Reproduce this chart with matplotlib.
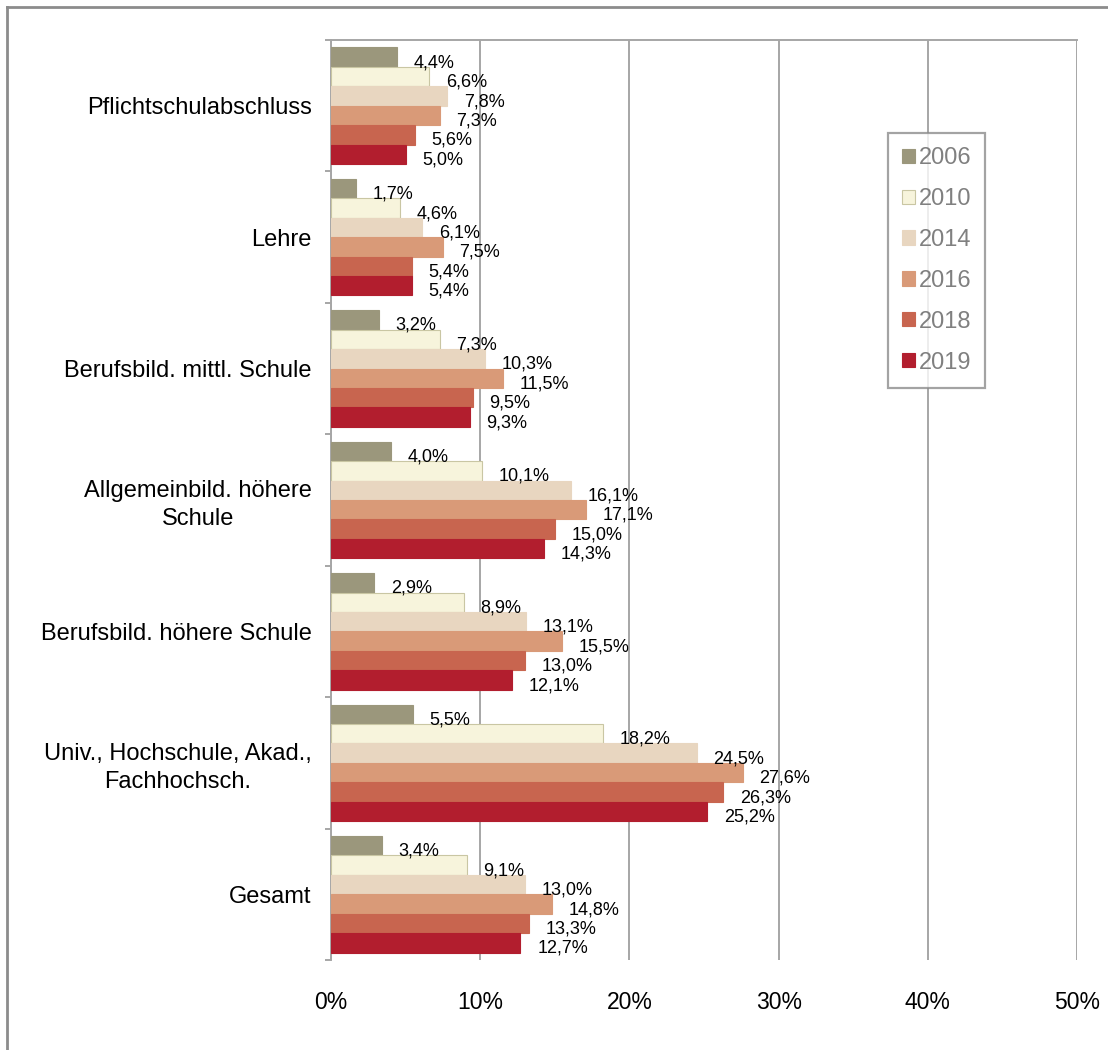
import numpy as np
import matplotlib
matplotlib.use('Agg')
import matplotlib.pyplot as plt
from matplotlib.lines import Line2D

plt.rcParams['font.family'] = ['Liberation Sans', 'DejaVu Sans']

categories = ['Pflichtschulabschluss', 'Lehre', 'Berufsbild. mittl. Schule',
              'Allgemeinbild. höhere\nSchule', 'Berufsbild. höhere Schule',
              'Univ., Hochschule, Akad.,\nFachhochsch.', 'Gesamt']
years = ['2006', '2010', '2014', '2016', '2018', '2019']
v2006 = [4.4, 1.7, 3.2, 4.0, 2.9, 5.5, 3.4]
v2010 = [6.6, 4.6, 7.3, 10.1, 8.9, 18.2, 9.1]
v2014 = [7.8, 6.1, 10.3, 16.1, 13.1, 24.5, 13.0]
v2016 = [7.3, 7.5, 11.5, 17.1, 15.5, 27.6, 14.8]
v2018 = [5.6, 5.4, 9.5, 15.0, 13.0, 26.3, 13.3]
v2019 = [5.0, 5.4, 9.3, 14.3, 12.1, 25.2, 12.7]
series = [v2006, v2010, v2014, v2016, v2018, v2019]
colors = ['#9b977c', '#f7f4dc', '#e8d6c0', '#d99a78', '#c8654f', '#b21e2e']
edges = ['#9b977c', '#c9c6a3', '#e8d6c0', '#d99a78', '#c8654f', '#b21e2e']

fig = plt.figure(figsize=(11.08, 10.5), dpi=100)
ax = fig.add_axes([331/1108, 1-960/1050, 746/1108, 920/1050])

n = len(categories)
y = np.arange(n)
h = 0.148
for i, (vals, c, e) in enumerate(zip(series, colors, edges)):
    pos = y - 2.5*h + i*h
    bars = ax.barh(pos, vals, height=h, color=c, edgecolor=e, linewidth=0.8,
                   label=years[i], zorder=3)
    for b, v in zip(bars, vals):
        ax.annotate(('%.1f%%' % v).replace('.', ','),
                    (b.get_width(), b.get_y() + b.get_height()/2),
                    xytext=(12, -4), textcoords='offset points',
                    ha='left', va='center', fontsize=13, color='black', zorder=4)

ax.set_xlim(0, 50)
ax.set_ylim(n - 0.5, -0.5)
ax.set_xticks(np.arange(0, 51, 10))
ax.set_xticklabels(['%d%%' % t for t in range(0, 51, 10)], fontsize=16.5)
ax.tick_params(axis='x', length=0, pad=22)
ax.xaxis.grid(True, color='#a6a6a6', linewidth=1.4, zorder=0)

ax.set_yticks(np.arange(-0.5, n, 1))
ax.set_yticklabels([])
ax.set_yticks(y, minor=True)
ax.set_yticklabels(categories, minor=True, fontsize=17, multialignment='center',
                   linespacing=1.35)
ax.tick_params(axis='y', which='major', length=4.5, width=1.4, color='#a6a6a6', direction='out')
ax.tick_params(axis='y', which='minor', length=0, pad=14)

for s in ['bottom', 'right']:
    ax.spines[s].set_visible(False)
for s in ['left', 'top']:
    ax.spines[s].set_color('#a6a6a6')
    ax.spines[s].set_linewidth(1.4)

leg = ax.legend(loc='upper left', bbox_to_anchor=((888-331)/746, (960-133)/920),
                fontsize=17, labelspacing=0.8, handlelength=0.55, handleheight=0.55,
                handletextpad=0.15, borderpad=0.6, borderaxespad=0,
                fancybox=False, frameon=True)
leg.get_frame().set_edgecolor('#8c8c8c')
leg.get_frame().set_linewidth(1.6)
for t in leg.get_texts():
    t.set_color('#808080')

# outer frame (only top and left visible)
fig.add_artist(Line2D([7/1108, 1], [1-7/1050, 1-7/1050], color='#8c8c8c', linewidth=2))
fig.add_artist(Line2D([7/1108, 7/1108], [0, 1-7/1050], color='#8c8c8c', linewidth=2))

fig.savefig('out.png', dpi=100)
